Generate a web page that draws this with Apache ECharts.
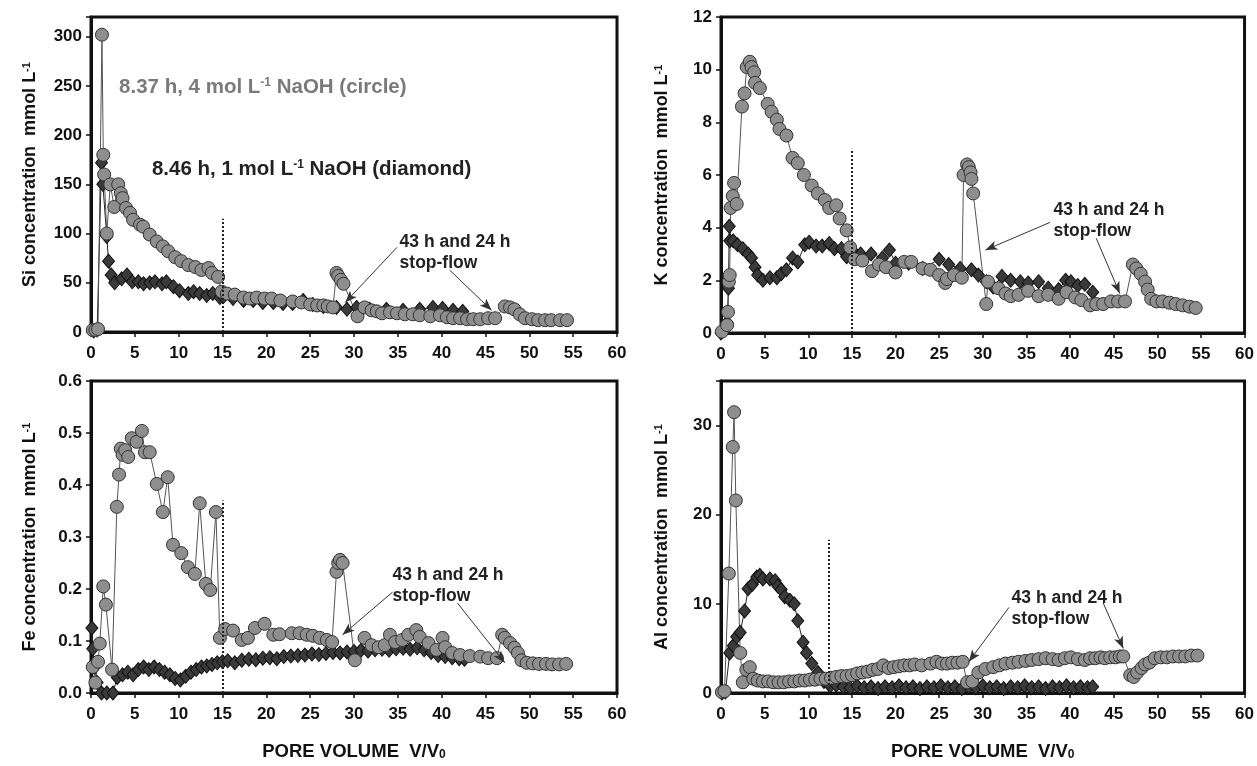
<!DOCTYPE html>
<html>
<head>
<meta charset="utf-8">
<title>Si, K, Fe, Al vs pore volume</title>
<script src="https://cdn.jsdelivr.net/npm/echarts@6.0.0/dist/echarts.min.js"></script>
<style>
  html, body { margin: 0; padding: 0; background: #ffffff; }
  #main { width: 1257px; height: 766px; }
</style>
</head>
<body>
<div id="main"></div>
<script>
/* data: [pore volume V/V0, concentration] */

// Si, mmol/L
var siCircle = [[0.2,2],[0.5,2],[0.8,3],[1.25,302],[1.4,180],[1.5,160],[1.8,100],[2.2,150],[2.65,127],[3.1,150],[3.4,141],[3.6,136],[4.0,126],[4.45,121],[4.8,114],[5.6,109],[5.95,107],[6.7,99],[7.5,92],[8.2,87],[8.8,82],[9.6,76],[10.3,72],[11.1,68],[11.9,66],[12.6,63],[13.4,65],[13.8,60],[14.5,56],[14.9,41],[15.5,39],[16.4,38],[17.4,35],[18.1,34],[18.9,35],[19.8,34],[20.6,34],[21.6,32],[23.0,31],[24.0,30],[25.0,28],[25.8,27],[26.5,27],[27.0,26],[27.6,25],[28.0,60],[28.2,57],[28.5,53],[28.8,49],[30.4,16],[31.2,25],[32.0,22],[32.6,21],[33.2,19],[34.1,20],[34.9,19],[35.8,18],[36.7,18],[37.5,17],[38.7,16],[39.8,17],[40.6,15],[41.3,14],[42.1,14],[42.9,13],[43.6,13],[44.4,13],[45.3,14],[46.1,14],[47.2,26],[47.8,25],[48.3,23],[48.9,18],[49.5,14],[50.3,13],[51.0,12],[51.8,12],[52.5,12],[53.5,12],[54.3,12]];
var siDiamond = [[0.3,1],[0.7,2],[1.2,172],[1.35,150],[1.8,97],[2.0,72],[2.3,58],[2.7,50],[3.5,54],[4.1,58],[4.7,51],[5.4,51],[6.0,49],[6.7,50],[7.3,51],[8.1,49],[8.6,51],[9.4,46],[10.1,42],[11.1,39],[11.7,41],[12.4,39],[13.2,37],[13.9,39],[14.7,35],[15.1,36],[16.2,34],[17.4,32],[18.5,32],[19.6,30],[20.8,30],[21.9,29],[23.0,29],[24.2,32],[25.3,28],[26.5,26],[28.0,25],[29.2,23],[30.3,25],[31.8,23],[33.7,23],[35.6,22],[37.5,23],[39.0,25],[40.1,24],[41.3,22],[42.4,21]];

// K, mmol/L
var kCircle = [[0.1,0.05],[0.7,0.3],[0.8,0.8],[0.9,1.95],[1.0,2.2],[1.1,4.75],[1.35,5.2],[1.5,5.7],[1.8,4.9],[2.4,8.6],[2.7,9.1],[2.95,10.1],[3.3,10.3],[3.5,10.1],[3.8,9.9],[3.9,9.5],[4.45,9.3],[5.35,8.7],[5.8,8.4],[6.4,8.1],[6.7,7.75],[7.5,7.5],[8.2,6.65],[8.8,6.45],[9.5,6.0],[10.4,5.6],[11.1,5.3],[11.9,5.05],[12.4,4.75],[13.2,4.85],[13.6,4.35],[14.4,3.9],[14.8,3.25],[15.3,2.8],[16.2,2.75],[17.3,2.35],[18.1,2.6],[18.9,2.5],[20.0,2.3],[21.0,2.7],[21.8,2.7],[23.1,2.45],[24.0,2.4],[25.0,2.2],[25.7,1.9],[25.9,2.05],[26.7,2.2],[27.6,2.1],[27.8,6.0],[28.2,6.4],[28.4,6.3],[28.6,6.1],[28.7,5.85],[28.9,5.3],[30.4,1.1],[30.6,1.95],[31.8,1.7],[32.6,1.5],[33.2,1.4],[34.1,1.45],[35.2,1.6],[36.4,1.4],[37.5,1.45],[38.7,1.3],[39.6,1.55],[40.6,1.35],[41.3,1.25],[42.3,1.05],[43.0,1.1],[43.8,1.1],[44.7,1.2],[45.5,1.2],[46.3,1.2],[47.2,2.6],[47.6,2.45],[48.1,2.25],[48.6,1.95],[48.9,1.65],[49.3,1.3],[49.9,1.2],[50.6,1.2],[51.4,1.15],[52.1,1.1],[52.9,1.05],[53.7,1.0],[54.4,0.95]];
var kDiamond = [[0,0],[0.7,0.4],[0.85,1.7],[0.95,4.05],[1.0,3.5],[1.4,3.5],[1.9,3.35],[2.5,3.2],[3.1,3.0],[3.5,2.85],[3.9,2.5],[4.2,2.2],[4.8,2.0],[5.6,2.1],[6.4,2.1],[6.9,2.25],[7.5,2.4],[8.2,2.85],[8.8,2.7],[9.6,3.35],[10.1,3.45],[10.9,3.3],[11.6,3.3],[12.4,3.4],[13.0,3.2],[13.8,3.2],[14.4,2.9],[15.0,3.15],[16.0,3.0],[17.2,3.0],[18.5,2.85],[19.3,3.15],[20.0,2.65],[21.5,2.65],[23.1,2.45],[25.0,2.8],[26.1,2.6],[27.4,2.45],[28.7,2.4],[29.5,2.2],[30.4,1.95],[31.2,1.75],[32.2,2.15],[33.2,2.0],[34.3,1.95],[35.2,1.9],[36.4,1.95],[37.5,1.7],[38.7,1.65],[39.5,2.0],[40.1,1.95],[40.9,1.8],[41.7,1.85],[42.6,1.55]];

// Fe, mmol/L
var feCircle = [[0.2,0.05],[0.5,0.02],[0.8,0.06],[1.0,0.095],[1.4,0.205],[1.7,0.17],[2.4,0.045],[2.95,0.358],[3.2,0.42],[3.4,0.47],[3.6,0.458],[3.9,0.467],[4.25,0.454],[4.65,0.49],[5.2,0.483],[5.8,0.504],[6.15,0.463],[6.7,0.463],[7.5,0.402],[8.2,0.348],[8.75,0.415],[9.35,0.285],[10.3,0.269],[11.05,0.242],[11.85,0.229],[12.4,0.365],[13.1,0.21],[13.6,0.198],[14.25,0.348],[14.7,0.106],[15.3,0.123],[16.2,0.12],[17.2,0.102],[17.9,0.106],[18.7,0.125],[19.8,0.133],[20.8,0.112],[21.5,0.113],[22.9,0.115],[23.8,0.115],[24.6,0.112],[25.3,0.11],[26.1,0.106],[26.9,0.102],[27.5,0.098],[28.0,0.233],[28.2,0.25],[28.4,0.256],[28.7,0.25],[30.1,0.063],[31.2,0.106],[32.0,0.092],[32.8,0.088],[33.5,0.092],[34.1,0.112],[34.7,0.098],[35.5,0.102],[36.2,0.112],[37.1,0.121],[37.5,0.108],[38.5,0.096],[39.4,0.083],[40.1,0.106],[40.4,0.088],[41.2,0.077],[42.1,0.073],[43.2,0.071],[44.4,0.07],[45.3,0.067],[46.3,0.067],[46.9,0.112],[47.2,0.106],[47.8,0.096],[48.3,0.087],[48.7,0.077],[49.1,0.063],[49.7,0.058],[50.4,0.057],[51.1,0.056],[51.9,0.056],[52.6,0.055],[53.4,0.055],[54.2,0.056]];
var feDiamond = [[0.1,0.125],[0.2,0.085],[0.4,0.05],[0.7,0.02],[1.2,0.0],[1.8,0.0],[2.5,0.0],[3.0,0.03],[3.6,0.035],[4.2,0.04],[4.8,0.035],[5.4,0.045],[6.0,0.05],[6.6,0.045],[7.2,0.05],[7.8,0.045],[8.4,0.04],[9.0,0.035],[9.6,0.028],[10.2,0.025],[10.8,0.032],[11.4,0.04],[12.0,0.045],[12.6,0.05],[13.2,0.052],[13.8,0.055],[14.4,0.058],[15.0,0.06],[15.6,0.062],[16.4,0.058],[17.2,0.063],[18.0,0.065],[18.8,0.064],[19.6,0.067],[20.4,0.068],[21.2,0.066],[22.0,0.07],[22.8,0.071],[23.6,0.072],[24.4,0.073],[25.2,0.075],[26.0,0.074],[26.8,0.076],[27.6,0.078],[28.4,0.077],[29.2,0.079],[30.0,0.08],[30.8,0.082],[31.6,0.081],[32.4,0.083],[33.2,0.084],[34.0,0.082],[34.8,0.085],[35.6,0.086],[36.4,0.084],[37.2,0.087],[38.0,0.083],[38.8,0.078],[39.6,0.072],[40.4,0.07],[41.2,0.068],[42.0,0.066],[42.6,0.065]];

// Al, mmol/L
var alCircle = [[0.1,0.1],[0.4,0.2],[0.9,13.4],[1.35,27.6],[1.5,31.5],[1.7,21.6],[2.2,4.5],[2.5,1.2],[2.9,2.6],[3.3,2.9],[3.7,1.6],[4.2,1.4],[4.8,1.3],[5.4,1.3],[6.0,1.2],[6.6,1.2],[7.2,1.2],[7.8,1.3],[8.4,1.3],[9.0,1.4],[9.6,1.4],[10.2,1.5],[10.8,1.5],[11.4,1.6],[12.0,1.6],[12.6,1.7],[13.2,1.8],[13.8,1.9],[14.4,1.9],[15.0,2.0],[15.6,2.2],[16.2,2.3],[16.8,2.4],[17.4,2.6],[18.0,2.7],[18.6,3.1],[19.2,2.8],[19.8,2.9],[20.4,3.0],[21.0,3.1],[21.6,3.1],[22.2,3.2],[23.0,3.1],[24.0,3.3],[24.7,3.5],[25.3,3.3],[25.9,3.3],[26.5,3.4],[27.1,3.4],[27.7,3.5],[28.2,1.2],[28.8,1.3],[29.5,2.3],[30.3,2.7],[31.2,2.9],[31.9,3.1],[32.6,3.3],[33.4,3.4],[34.1,3.5],[34.9,3.6],[35.6,3.7],[36.4,3.8],[37.2,3.9],[38.0,3.8],[38.7,3.7],[39.4,3.9],[40.1,4.0],[40.9,3.8],[41.7,3.7],[42.3,3.9],[42.9,3.9],[43.5,4.0],[44.0,3.9],[44.6,4.0],[45.2,4.0],[45.7,4.1],[46.1,4.1],[46.9,2.0],[47.3,1.8],[47.7,2.3],[48.2,2.8],[48.6,3.2],[49.1,3.4],[49.7,3.9],[50.4,4.0],[51.1,4.0],[51.8,4.1],[52.5,4.1],[53.2,4.1],[53.9,4.2],[54.6,4.2]];
var alDiamond = [[0.1,0],[0.5,0.1],[1.0,4.5],[1.4,5.3],[1.8,6.3],[2.2,6.8],[2.7,9.2],[3.1,11.7],[3.6,12.2],[4.1,13.0],[4.45,13.2],[4.8,12.8],[5.6,12.8],[6.2,12.6],[6.5,12.0],[6.9,11.6],[7.3,10.8],[7.9,10.4],[8.4,10.0],[8.8,8.1],[9.4,5.7],[9.8,4.5],[10.4,3.3],[11.1,2.3],[11.8,1.3],[12.5,0.8],[13.2,0.9],[14.0,0.7],[14.8,0.6],[15.6,0.8],[16.4,0.6],[17.2,0.7],[18.0,0.5],[18.8,0.7],[19.6,0.6],[20.4,0.8],[21.2,0.6],[22.0,0.7],[22.8,0.5],[23.6,0.7],[24.4,0.6],[25.2,0.8],[26.0,0.6],[26.8,0.7],[27.6,0.5],[28.4,0.7],[29.2,0.6],[30.0,0.8],[30.8,0.6],[31.6,0.7],[32.4,0.5],[33.2,0.7],[34.0,0.6],[34.8,0.8],[35.6,0.6],[36.4,0.7],[37.2,0.5],[38.0,0.7],[38.8,0.6],[39.6,0.8],[40.4,0.6],[41.2,0.7],[42.0,0.6],[42.6,0.7]];

var xTicks = [0, 60, 5];   // min, max, step of the pore-volume axis

var FONT = '"Liberation Sans", Arial, Helvetica, sans-serif';
var INK = '#111111';

// 그래프 4칸 배치
var panels = [
  { grid: { left: 91, top: 17, width: 526, height: 315 }, max: 320, step: 50, name: 'Si', fmt: function (v) { return v % 50 === 0 ? v : ''; }, bottom: false },
  { grid: { left: 721, top: 17, width: 526, height: 316 }, max: 12, step: 2, name: 'K', fmt: function (v) { return v; }, bottom: false },
  { grid: { left: 91, top: 381, width: 526, height: 312 }, max: 0.6, step: 0.1, name: 'Fe', fmt: function (v) { return v.toFixed(1); }, bottom: true },
  { grid: { left: 721, top: 381, width: 526, height: 312 }, max: 35, step: 10, name: 'Al', fmt: function (v) { return v % 10 === 0 ? v : ''; }, bottom: true }
];

var grids = [], xAxes = [], yAxes = [], series = [];

panels.forEach(function (p, i) {
  grids.push(Object.assign({ show: true, borderColor: INK, borderWidth: 3, backgroundColor: '#fff' }, p.grid));

  xAxes.push({
    gridIndex: i, type: 'value', min: xTicks[0], max: xTicks[1], interval: xTicks[2],
    axisLine: { show: true, lineStyle: { color: INK, width: 3 } },
    axisTick: { show: true, length: 5, lineStyle: { color: INK, width: 1.5 } },
    axisLabel: { color: INK, fontFamily: FONT, fontWeight: 'bold', fontSize: 17, margin: 13 },
    splitLine: { show: false },
    name: p.bottom ? '{t|PORE VOLUME  V/V}{b|0}' : '',
    nameLocation: 'middle', nameGap: 49,
    nameTextStyle: {
      rich: {
        t: { fontFamily: FONT, fontWeight: 'bold', fontSize: 18.5, color: INK },
        b: { fontFamily: FONT, fontWeight: 'bold', fontSize: 12, color: INK, verticalAlign: 'bottom', padding: [7, 0, 0, 0] }
      }
    }
  });

  yAxes.push({
    gridIndex: i, type: 'value', min: 0, max: p.max, interval: p.step,
    axisLine: { show: true, lineStyle: { color: INK, width: 3 } },
    axisTick: { show: true, length: 5, lineStyle: { color: INK, width: 1.5 } },
    axisLabel: { color: INK, fontFamily: FONT, fontWeight: 'bold', fontSize: 17, margin: 9, formatter: p.fmt },
    splitLine: { show: false },
    name: '{t|' + p.name + ' concentration  mmol L}{s|-1}',
    nameLocation: 'middle', nameGap: i % 2 === 0 ? 52 : 50, nameRotate: 90,
    nameTextStyle: {
      rich: {
        t: { fontFamily: FONT, fontWeight: 'bold', fontSize: 18, color: INK },
        s: { fontFamily: FONT, fontWeight: 'bold', fontSize: 11, color: INK, verticalAlign: 'top' }
      }
    }
  });
});

function arrow(a, b) {
  return [{ coord: a, symbol: 'none' }, { coord: b, symbol: 'arrow', symbolSize: [7, 12] }];
}

function dotted(x, top) {
  return [{ coord: [x, 0], symbol: 'none' }, { coord: [x, top], symbol: 'none' }];
}

function note(coord, text, color, size) {
  return {
    coord: coord, symbol: 'circle', symbolSize: 0,
    label: {
      show: true, position: 'right', distance: 0, formatter: text,
      color: color, fontFamily: FONT, fontWeight: 'bold', fontSize: size, lineHeight: 21, align: 'left',
      rich: {
        t: { fontFamily: FONT, fontWeight: 'bold', fontSize: size, color: color },
        s: { fontFamily: FONT, fontWeight: 'bold', fontSize: 12, color: color, verticalAlign: 'top' }
      }
    }
  };
}

var stopFlow = '43 h and 24 h\nstop-flow';

// 주석: 점선, 화살표, 글자
var marks = [
  {
    line: dotted(15, 115),
    arrows: [arrow([34.9, 86], [29.0, 30]), arrow([40.9, 63], [45.7, 22])],
    notes: [
      note([35.2, 81], stopFlow, '#222', 17.5),
      note([3.2, 249], '{t|8.37 h, 4 mol L}{s|-1}{t| NaOH (circle)}', '#7a7a7a', 20.5),
      note([6.95, 165], '{t|8.46 h, 1 mol L}{s|-1}{t| NaOH (diamond)}', '#222', 20.5)
    ]
  },
  {
    line: dotted(15, 7.0),
    arrows: [arrow([37.7, 4.2], [30.3, 3.15]), arrow([43.0, 3.6], [45.7, 1.5])],
    notes: [note([38.1, 4.25], stopFlow, '#222', 17.5)]
  },
  {
    line: dotted(15, 0.37),
    arrows: [arrow([34.4, 0.194], [28.7, 0.112]), arrow([41.8, 0.173], [47.2, 0.058])],
    notes: [note([34.4, 0.207], stopFlow, '#222', 17.5)]
  },
  {
    line: dotted(12.4, 17.2),
    arrows: [arrow([33.0, 9.6], [28.4, 3.5]), arrow([43.8, 10.1], [46.1, 5.0])],
    notes: [note([33.3, 9.5], stopFlow, '#222', 17.5)]
  }
];

var pairs = [[siCircle, siDiamond], [kCircle, kDiamond], [feCircle, feDiamond], [alCircle, alDiamond]];

pairs.forEach(function (pr, i) {
  // 1 mol/L NaOH (diamond)
  series.push({
    name: '1 mol/L NaOH', type: 'line', xAxisIndex: i, yAxisIndex: i, data: pr[1],
    symbol: 'diamond', symbolSize: [12, 14], showAllSymbol: true, clip: false,
    lineStyle: { color: '#222', width: 1 },
    itemStyle: { color: '#3a3a3a', borderColor: '#111', borderWidth: 1 },
    markLine: {
      silent: true, label: { show: false }, animation: false,
      lineStyle: { color: '#222', width: 2, type: 'dotted' },
      data: [marks[i].line]
    }
  });
  // 4 mol/L NaOH (circle)
  series.push({
    name: '4 mol/L NaOH', type: 'line', xAxisIndex: i, yAxisIndex: i, data: pr[0],
    symbol: 'circle', symbolSize: 13, showAllSymbol: true, clip: false,
    lineStyle: { color: '#555', width: 1 },
    itemStyle: { color: '#8e8e8e', borderColor: '#333', borderWidth: 1 },
    markLine: {
      silent: true, label: { show: false }, animation: false,
      lineStyle: { color: '#333', width: 1, type: 'solid' },
      data: marks[i].arrows
    },
    markPoint: { silent: true, animation: false, data: marks[i].notes }
  });
});

var myChart = echarts.init(document.getElementById('main'));

var option = {
  animation: false,
  backgroundColor: '#ffffff',
  grid: grids,
  xAxis: xAxes,
  yAxis: yAxes,
  series: series
};

myChart.setOption(option);
</script>
</body>
</html>
